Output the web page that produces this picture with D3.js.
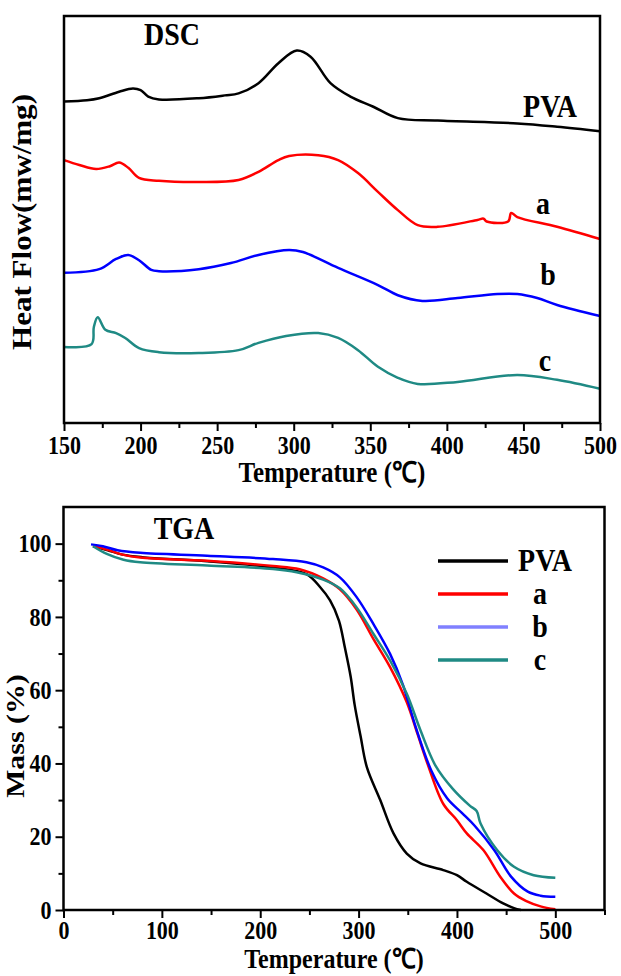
<!DOCTYPE html>
<meta charset="utf-8">
<html>

<head>
    <title>DSC / TGA</title>
    <style>
        body { margin: 0; background: #fff; }
        svg text { font-family: "Liberation Serif", "Times New Roman", serif; font-weight: bold; fill: #000; }
    </style>
</head>

<body>
    <div id="container"></div>

    <script src="https://d3js.org/d3.v7.min.js"></script>

    <script>
        // ---------- DSC data: [temperature (C), heat flow (offset, a.u.)] ----------
        const dscPVA = [[150, 79.0], [165, 79.3], [173, 79.8], [186, 81.4], [195, 82.2], [200, 81.8], [205, 80.2],
            [212, 79.5], [238, 79.8], [255, 80.5], [264, 81.0], [277, 83.5], [290, 88.4], [302, 91.5], [311, 90.0],
            [324, 83.5], [337, 80.2], [352, 77.7], [368, 74.9], [394, 74.3], [446, 73.6], [472, 72.8], [500, 71.7]];
        const dscA = [[150, 64.6], [160, 63.4], [171, 62.4], [180, 63.1], [186, 64.0], [192, 62.7], [199, 60.2],
            [212, 59.5], [238, 59.2], [264, 59.7], [277, 61.7], [290, 64.6], [297, 65.6], [316, 65.8], [329, 64.6],
            [342, 61.4], [355, 56.8], [368, 52.3], [381, 48.6], [394, 48.2], [420, 49.9], [424, 50.2], [426, 49.5],
            [440, 49.5], [442, 51.6], [446, 50.6], [472, 48.2], [500, 45.2]];
        const dscB = [[150, 36.9], [173, 37.8], [184, 40.3], [192, 41.3], [199, 40.0], [207, 37.6], [212, 37.3],
            [238, 37.8], [259, 39.3], [277, 41.3], [297, 42.5], [306, 42.0], [329, 38.1], [355, 33.9], [368, 31.4],
            [384, 30.0], [407, 30.7], [433, 31.7], [446, 31.7], [459, 30.7], [472, 29.0], [500, 26.3]];
        const dscC = [[150, 18.7], [168, 19.4], [169.5, 23.6], [172, 26.0], [177, 22.9], [184, 22.1], [190, 20.9],
            [199, 18.4], [212, 17.4], [238, 17.2], [264, 17.9], [277, 19.7], [295, 21.4], [316, 22.1], [329, 20.9],
            [342, 17.9], [355, 13.8], [368, 11.1], [381, 9.6], [407, 10.1], [446, 11.8], [472, 10.6], [500, 8.4]];

        // ---------- TGA data: [temperature (C), mass (%)] ----------
        const tgaPVA = [[30, 99.3], [45, 98.2], [60, 97.0], [80, 96.3], [146, 95.2], [213, 93.5], [247, 91.7],
            [261, 88.1], [271, 84.5], [280, 79.0], [286, 71.7], [292, 63.6], [296, 56.0], [302, 47.5], [308.4, 39.0],
            [322, 30.0], [335.5, 20.9], [349, 15.4], [363, 12.7], [386, 10.9], [400, 9.5], [410, 7.7],
            [430, 4.5], [447, 1.8], [458, 0.5], [465, 0]];
        const tgaA = [[30, 99.4], [45, 98.3], [60, 97.0], [78, 96.2], [146, 95.3], [213, 93.9], [240, 93.0],
            [264, 90.5], [281, 87.5], [298, 82.0], [315, 74.0], [332, 66.3], [349, 56.7], [360, 48.0], [370, 40.0],
            [386, 29.0], [400, 24.5], [410, 20.9], [427, 16.3], [444, 9.1], [458, 4.5], [470, 2.5], [485, 1.0], [500, 0.2]];
        const tgaB = [[28, 99.8], [40, 99.3], [55, 98.2], [78, 97.5], [146, 96.7], [213, 95.8], [247, 94.9],
            [264, 93.5], [281, 90.8], [298, 85.4], [315, 78.1], [332, 69.9], [345, 61.5], [358, 50.0], [374, 38.0],
            [390, 30.5], [405, 26.5], [418, 23.0], [438, 16.3], [455, 9.1], [472, 5.0], [485, 3.9], [500, 3.6]];
        const tgaC = [[30, 99.3], [44, 97.2], [61, 95.6], [78, 94.9], [146, 94.0], [213, 93.1], [237, 92.2],
            [264, 90.2], [281, 87.8], [298, 82.6], [315, 75.4], [332, 68.1], [349, 59.0], [363, 49.0], [378, 39.5],
            [396, 33.0], [413, 28.5], [420, 27.0], [424, 23.6], [441, 16.3], [458, 11.8], [478, 9.5], [500, 8.8]];

        const seriesNames = ["PVA", "a", "b", "c"];
        const seriesColors = ["#000000", "#ff0000", "#0000ff", "#1f8a84"];
        const legendColors = ["#000000", "#ff0000", "#8080ff", "#1f8a84"];

        const dscXTicks = [150, 200, 250, 300, 350, 400, 450, 500];
        const dscXMinor = [175, 225, 275, 325, 375, 425, 475];
        const tgaXTicks = [0, 100, 200, 300, 400, 500];
        const tgaXMinor = [50, 150, 250, 350, 450, 550];
        const tgaYTicks = [0, 20, 40, 60, 80, 100];
        const tgaYMinor = [10, 30, 50, 70, 90];

        const width = 621, height = 976;
        const stretch = 1.15; // the original figure is a bit taller than wide, text included

        const svg = d3.select("#container").append("svg")
            .attr("width", width)
            .attr("height", height);

        /**
         * a helper that writes a bold serif text, stretched vertically like the source figure
         */
        function addText(x, y, str, size, rotate) {
            return svg.append("text")
                .attr("transform", `translate(${x},${y}) scale(1,${stretch})` + (rotate ? " rotate(-90)" : ""))
                .attr("text-anchor", "middle")
                .attr("font-size", size)
                .text(str);
        }

        /**
         * draws tick marks (major with labels, minor without) and removes the domain path
         */
        function addAxis(g, axisFn, scale, major, minor, pad) {
            g.append("g").call(axisFn(scale).tickValues(minor).tickSize(5).tickFormat(""));
            g.append("g").call(axisFn(scale).tickValues(major).tickSize(8).tickPadding(pad).tickFormat(d3.format("d")));
            g.selectAll(".domain").remove();
            g.selectAll("g").attr("font-family", null).attr("font-size", null);
            g.selectAll(".tick line").attr("stroke", "#000").attr("stroke-width", 2);
            g.selectAll(".tick text").attr("font-size", 22).attr("fill", "#000")
                .attr("transform", `scale(1,${stretch})`);
        }

        // ================= DSC panel =================
        const dx = d3.scaleLinear().domain([150, 500]).range([64, 600]);
        const dy = d3.scaleLinear().domain([0, 100]).range([423, 16]);

        const dscLine = d3.line()
            .x(d => dx(d[0]))
            .y(d => dy(d[1]))
            .curve(d3.curveCatmullRom.alpha(0.5));

        const dscData = [dscPVA, dscA, dscB, dscC];
        svg.append("g")
            .selectAll("path")
            .data(dscData)
            .join("path")
            .attr("d", dscLine)
            .attr("fill", "none")
            .attr("stroke", (d, i) => seriesColors[i])
            .attr("stroke-width", 2.5)
            .attr("stroke-linejoin", "round");

        // frame
        svg.append("rect")
            .attr("x", 64).attr("y", 16)
            .attr("width", 536).attr("height", 407)
            .attr("fill", "none").attr("stroke", "#000").attr("stroke-width", 2.5);

        addAxis(svg.append("g").attr("transform", "translate(0,423)"), d3.axisBottom, dx, dscXTicks, dscXMinor, 3);

        // curve labels
        addText(550, 117, "PVA", 28);
        addText(543, 214, "a", 28);
        addText(548, 285, "b", 28);
        addText(545, 371, "c", 28);
        addText(172, 45, "DSC", 28);

        addText(332, 482, "Temperature (℃)", 25);
        addText(31, 222, "Heat Flow(mw/mg)", 27, true);

        // ================= TGA panel =================
        const tx = d3.scaleLinear().domain([0, 550]).range([63.5, 604.5]);
        const ty = d3.scaleLinear().domain([0, 110]).range([910, 507]);

        const tgaLine = d3.line()
            .x(d => tx(d[0]))
            .y(d => ty(d[1]))
            .curve(d3.curveCatmullRom.alpha(0.5));

        const tgaData = [tgaPVA, tgaA, tgaB, tgaC];
        svg.append("g")
            .selectAll("path")
            .data(tgaData)
            .join("path")
            .attr("d", tgaLine)
            .attr("fill", "none")
            .attr("stroke", (d, i) => seriesColors[i])
            .attr("stroke-width", 2.5)
            .attr("stroke-linejoin", "round");

        svg.append("rect")
            .attr("x", 63.5).attr("y", 507)
            .attr("width", 541).attr("height", 403)
            .attr("fill", "none").attr("stroke", "#000").attr("stroke-width", 2.5);

        addAxis(svg.append("g").attr("transform", "translate(0,910)"), d3.axisBottom, tx, tgaXTicks, tgaXMinor, 2);
        addAxis(svg.append("g").attr("transform", "translate(63.5,0)"), d3.axisLeft, ty, tgaYTicks, tgaYMinor, 4);

        addText(184, 539, "TGA", 28);

        // legend
        const legend = svg.append("g")
            .selectAll("g")
            .data(seriesNames)
            .join("g")
            .attr("transform", (d, i) => `translate(0,${561 + i * 33})`);
        legend.append("line")
            .attr("x1", 438).attr("x2", 508)
            .attr("stroke", (d, i) => legendColors[i])
            .attr("stroke-width", 3.5);
        legend.append("text")
            .attr("transform", (d, i) => `translate(${i === 0 ? 545 : 540},10) scale(1,${stretch})`)
            .attr("text-anchor", "middle")
            .attr("font-size", 28)
            .text(d => d);

        addText(334, 968, "Temperature (℃)", 24);
        addText(24, 736, "Mass (%)", 26, true);
    </script>
</body>

</html>
